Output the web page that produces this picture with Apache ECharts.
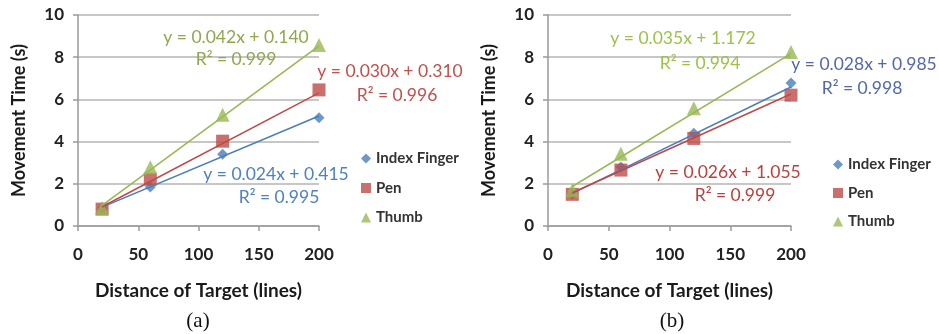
<!DOCTYPE html>
<html><head><meta charset="utf-8">
<script src="https://cdn.jsdelivr.net/npm/echarts@6/dist/echarts.min.js"></script>
<style>html,body{margin:0;padding:0;background:#fff}#c{width:939px;height:334px}</style>
</head><body><div id="c"></div>
<script>
const distances = [20, 60, 120, 200];
const seriesNames = ['Index Finger', 'Pen', 'Thumb'];
// Chart (a)
const aIndex = [0.85, 1.85, 3.4, 5.13];
const aPen = [0.8, 2.22, 4.02, 6.45];
const aThumb = [0.85, 2.78, 5.27, 8.58];
const aSlope = [0.024, 0.030, 0.042];
const aIntercept = [0.415, 0.310, 0.140];
const aR2 = ['0.995', '0.996', '0.999'];
// Chart (b)
const bIndex = [1.5, 2.8, 4.4, 6.78];
const bPen = [1.5, 2.65, 4.15, 6.2];
const bThumb = [1.7, 3.42, 5.58, 8.25];
const bSlope = [0.028, 0.026, 0.035];
const bIntercept = [0.985, 1.055, 1.172];
const bR2 = ['0.998', '0.999', '0.994'];
const xTicks = [0, 50, 100, 150, 200];
const yTicks = [0, 2, 4, 6, 8, 10];

const colors = ['#4A7EBB', '#BE4B48', '#98B954'];
const symbols = ['diamond', 'rect', 'triangle'];
const symSizes = [11, 13, 14];
const FONT = 'Lato';

function pts(vals) { return distances.map((d, i) => [d, vals[i]]); }
function trend(s, b) {
  const x0 = distances[0], x1 = distances[distances.length - 1];
  return [[x0, s * x0 + b], [x1, s * x1 + b]];
}

function xAxis(gi) {
  return {
    type: 'value', gridIndex: gi, min: xTicks[0], max: xTicks[xTicks.length - 1], interval: 50,
    name: 'Distance of Target (lines)', nameLocation: 'middle', nameGap: 55,
    nameTextStyle: { fontFamily: FONT, fontWeight: 'bold', fontSize: 19, color: '#1a1a1a' },
    axisLine: { show: true, lineStyle: { color: '#9a9a9a', width: 1.5 } },
    axisTick: { show: true, length: 5, lineStyle: { color: '#9a9a9a', width: 1.5 } },
    axisLabel: { fontFamily: FONT, fontWeight: 'bold', fontSize: 17, color: '#222', margin: 20 },
    splitLine: { show: false }
  };
}
function yAxis(gi) {
  return {
    type: 'value', gridIndex: gi, min: yTicks[0], max: yTicks[yTicks.length - 1], interval: 2,
    name: 'Movement Time (s)', nameLocation: 'middle', nameGap: 50,
    nameTextStyle: { fontFamily: FONT, fontWeight: 'bold', fontSize: 18, color: '#1a1a1a' },
    axisLine: { show: true, lineStyle: { color: '#9a9a9a', width: 1.5 } },
    axisTick: { show: true, length: 5, lineStyle: { color: '#9a9a9a', width: 1.5 } },
    axisLabel: { fontFamily: FONT, fontWeight: 'bold', fontSize: 17, color: '#222', margin: 14 },
    splitLine: { show: true, lineStyle: { color: '#b4b4b4', width: 1.5 } }
  };
}

const series = [];
[[aIndex, aPen, aThumb, aSlope, aIntercept], [bIndex, bPen, bThumb, bSlope, bIntercept]].forEach((set, gi) => {
  const vals = [set[0], set[1], set[2]];
  for (let k = 0; k < 3; k++) {
    series.push({
      type: 'scatter', name: seriesNames[k], xAxisIndex: gi, yAxisIndex: gi,
      data: pts(vals[k]), symbol: symbols[k], symbolSize: symSizes[k],
      itemStyle: { color: colors[k] }, z: 2
    });
  }
  for (let k = 0; k < 3; k++) {
    series.push({
      type: 'line', name: 'trend' + gi + k, xAxisIndex: gi, yAxisIndex: gi,
      data: trend(set[3][k], set[4][k]), showSymbol: false, symbol: 'none', silent: true,
      lineStyle: { color: colors[k], width: 1.6 }, z: 3
    });
  }
});

function eqText(s, b) { return 'y = ' + s.toFixed(3) + 'x + ' + b.toFixed(3); }
const aTxt = ['#4F81BD', '#C0504D', '#8FA84F'];
const bTxt = ['#5468A8', '#B8413E', '#9BC34A'];
function annText(x, y, text, color) {
  return { type: 'text', x: x, y: y, style: { text: text, fill: color, font: '17.5px ' + FONT, align: 'center', verticalAlign: 'middle' }, z: 10 };
}

const graphic = [
  annText(236, 37, eqText(aSlope[2], aIntercept[2]), aTxt[2]),
  annText(236, 59, 'R² = ' + aR2[2], aTxt[2]),
  annText(390, 71, eqText(aSlope[1], aIntercept[1]), aTxt[1]),
  annText(397, 95, 'R² = ' + aR2[1], aTxt[1]),
  annText(276, 174, eqText(aSlope[0], aIntercept[0]), aTxt[0]),
  annText(279, 197, 'R² = ' + aR2[0], aTxt[0]),
  annText(683, 38, eqText(bSlope[2], bIntercept[2]), bTxt[2]),
  annText(700, 63, 'R² = ' + bR2[2], bTxt[2]),
  annText(864, 64, eqText(bSlope[0], bIntercept[0]), bTxt[0]),
  annText(862, 88, 'R² = ' + bR2[0], bTxt[0]),
  annText(728, 172, eqText(bSlope[1], bIntercept[1]), bTxt[1]),
  annText(735, 195, 'R² = ' + bR2[1], bTxt[1]),
  { type: 'text', x: 198, y: 321, style: { text: '(a)', fill: '#111', font: '21px "Liberation Serif"', align: 'center', verticalAlign: 'middle' } },
  { type: 'text', x: 672, y: 321, style: { text: '(b)', fill: '#111', font: '21px "Liberation Serif"', align: 'center', verticalAlign: 'middle' } }
];

const legendStyle = { fontFamily: FONT, fontWeight: 'bold', fontSize: 15, color: '#333' };
const chart = echarts.init(document.getElementById('c'), null, { renderer: 'canvas' });
chart.setOption({
  animation: false,
  grid: [
    { left: 78, top: 15, width: 241, height: 211 },
    { left: 548, top: 15, width: 243, height: 211 }
  ],
  xAxis: [xAxis(0), xAxis(1)],
  yAxis: [yAxis(0), yAxis(1)],
  legend: [
    { data: seriesNames, orient: 'vertical', left: 356, top: 146, itemGap: 14.5, itemWidth: 10, itemHeight: 10, textStyle: legendStyle, selectedMode: false },
    { data: seriesNames, orient: 'vertical', left: 828, top: 152, itemGap: 13.5, itemWidth: 10, itemHeight: 10, textStyle: legendStyle, selectedMode: false }
  ],
  series: series,
  graphic: graphic
});
</script></body></html>
